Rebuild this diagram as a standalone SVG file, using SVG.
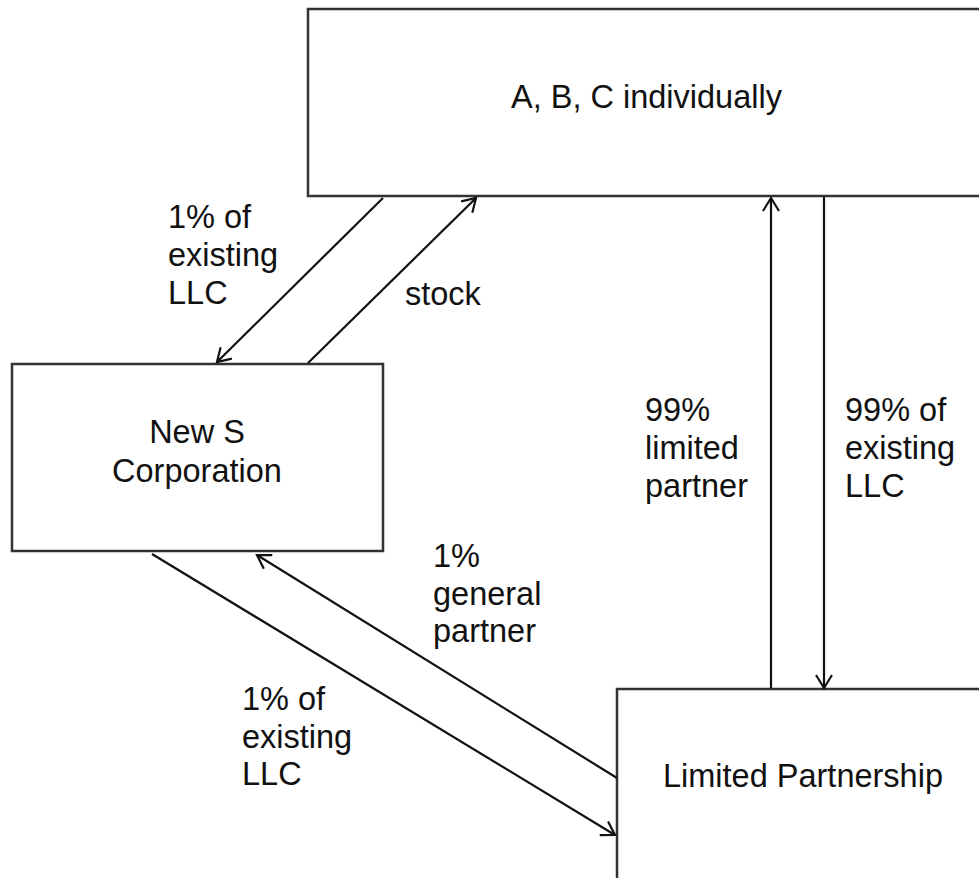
<svg xmlns="http://www.w3.org/2000/svg" width="979" height="878" viewBox="0 0 979 878">
<style>
.box{fill:#fff;stroke:#333;stroke-width:2.5}
.ln{fill:none;stroke:#111;stroke-width:2.2}
text{font-family:"Liberation Sans",Arial,sans-serif;font-size:32.5px;fill:#111}
</style>
<defs>
<marker id="ah" markerUnits="userSpaceOnUse" markerWidth="30" markerHeight="30" viewBox="-15 -15 30 30" refX="0" refY="0" orient="auto">
<path d="M-13,-8 L0,0 L-13,8" fill="none" stroke="#111" stroke-width="2.2"/>
</marker>
</defs>
<rect width="979" height="878" fill="#fff"/>
<g id="abc">
<rect class="box" x="308" y="9" width="690" height="187"/>
<text x="511" y="108">A, B, C individually</text>
</g>
<g id="newS">
<rect class="box" x="12" y="364" width="371" height="187"/>
<text x="197" y="443" text-anchor="middle">New S</text>
<text x="197" y="482" text-anchor="middle">Corporation</text>
</g>
<g id="lp">
<rect class="box" x="617" y="689" width="380" height="200"/>
<text x="663" y="787">Limited Partnership</text>
</g>
<g id="connectors">
<line class="ln" x1="383" y1="198" x2="217" y2="362" marker-end="url(#ah)"/>
<line class="ln" x1="308" y1="363" x2="476" y2="198" marker-end="url(#ah)"/>
<line class="ln" x1="771" y1="688" x2="771" y2="198" marker-end="url(#ah)"/>
<line class="ln" x1="824" y1="197" x2="824" y2="688" marker-end="url(#ah)"/>
<line class="ln" x1="617" y1="778" x2="257" y2="555" marker-end="url(#ah)"/>
<line class="ln" x1="152" y1="554" x2="615" y2="835" marker-end="url(#ah)"/>
</g>
<g id="labels">
<text x="168" y="228">1% of</text>
<text x="168" y="266">existing</text>
<text x="168" y="304">LLC</text>
<text x="405" y="305">stock</text>
<text x="645" y="421">99%</text>
<text x="645" y="459">limited</text>
<text x="645" y="497">partner</text>
<text x="845" y="421">99% of</text>
<text x="845" y="459">existing</text>
<text x="845" y="497">LLC</text>
<text x="433" y="567">1%</text>
<text x="433" y="605">general</text>
<text x="433" y="642">partner</text>
<text x="242" y="710">1% of</text>
<text x="242" y="748">existing</text>
<text x="242" y="785">LLC</text>
</g>
</svg>
